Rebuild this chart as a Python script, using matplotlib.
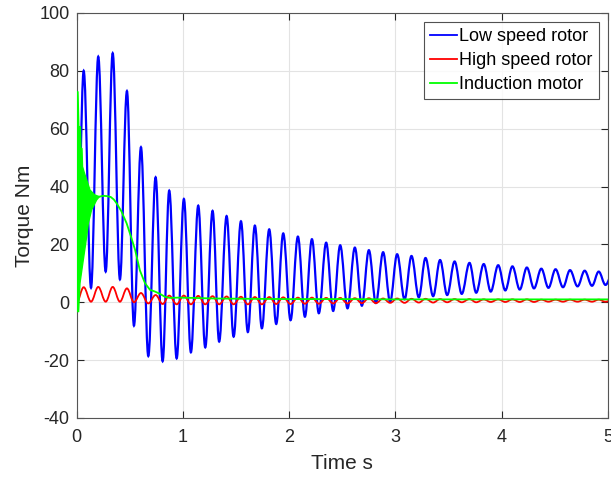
import matplotlib
matplotlib.use("Agg")
import matplotlib.pyplot as plt
from matplotlib.path import Path
from matplotlib.patches import PathPatch
from matplotlib.lines import Line2D

# ---------------- data ----------------
# times of the alternating extrema (start, peak, trough, peak, ...)
t_ext = [0.0,
         0.066, 0.135, 0.203, 0.273, 0.339, 0.407, 0.473, 0.539, 0.605, 0.674,
         0.743, 0.809, 0.871, 0.941, 1.009, 1.075, 1.144, 1.210, 1.279, 1.341,
         1.411, 1.477, 1.546, 1.611, 1.677, 1.743, 1.812, 1.878, 1.944, 2.013,
         2.082, 2.148, 2.214, 2.279, 2.348, 2.414, 2.480, 2.549, 2.618, 2.684,
         2.750, 2.816, 2.884, 2.950, 3.016, 3.086, 3.151, 3.220, 3.283, 3.355,
         3.420, 3.487, 3.557, 3.624, 3.697, 3.760, 3.831, 3.897, 3.967, 4.034,
         4.101, 4.170, 4.237, 4.304, 4.373, 4.440, 4.507, 4.577, 4.643, 4.714,
         4.781, 4.850, 4.913, 4.977, 5.047]

low_speed_ext = [0.0,
                 80.0, 5.0, 84.9, 10.6, 86.1, 7.9, 73.0, -8.1, 53.6, -18.6,
                 43.2, -20.4, 38.6, -19.4, 35.7, -17.3, 33.4, -15.6, 31.6, -13.6,
                 29.8, -11.9, 28.0, -10.3, 26.5, -9.0, 25.2, -7.5, 23.8, -6.2,
                 22.7, -5.0, 21.8, -3.8, 20.6, -3.0, 19.7, -2.1, 18.9, -1.2,
                 18.0, -0.3, 17.3, 0.2, 16.6, 1.0, 16.0, 1.7, 15.3, 2.1,
                 14.6, 2.5, 14.1, 2.9, 13.6, 3.3, 13.2, 3.7, 12.8, 4.1,
                 12.4, 4.4, 12.0, 4.8, 11.6, 5.0, 11.4, 5.2, 11.1, 5.5,
                 10.9, 5.7, 10.6, 6.0, 10.4]

high_speed_ext = [0.0,
                  5.2, 0.2, 5.3, 0.2, 5.3, 0.2, 4.8, 0.0, 3.2, -0.4,
                  2.5, -0.6, 2.3, -0.7, 2.3, -0.7, 2.2, -0.7, 2.1, -0.7,
                  2.0, -0.7, 1.9, -0.7, 1.8, -0.7, 1.8, -0.6, 1.7, -0.6,
                  1.6, -0.5, 1.6, -0.5, 1.5, -0.4, 1.5, -0.4, 1.4, -0.3,
                  1.4, -0.3, 1.3, -0.2, 1.3, -0.2, 1.2, -0.1, 1.2, -0.1,
                  1.1, 0.0, 1.1, 0.0, 1.1, 0.0, 1.0, 0.1, 1.0, 0.1,
                  1.0, 0.1, 1.0, 0.1, 0.9, 0.2, 0.9, 0.2, 0.9, 0.2,
                  0.9, 0.2, 0.9, 0.2, 0.9]

# induction motor: envelope of the fast start-up oscillation
motor_band_up_t = [0.0, 0.012, 0.020, 0.035, 0.040, 0.050, 0.055, 0.070, 0.094, 0.125, 0.170, 0.213]
motor_band_up_v = [72.8, 72.8, 60.7, 60.7, 53.2, 53.2, 46.9, 45.0, 42.3, 38.8, 37.1, 36.5]
motor_band_lo_t = [0.0, 0.006, 0.018, 0.031, 0.062, 0.085, 0.110, 0.140, 0.188, 0.213]
motor_band_lo_v = [0.0, -3.2, -3.2, 6.6, 14.6, 20.4, 27.3, 31.9, 35.4, 36.5]
# induction motor: slow part
motor_t = [0.213, 0.25, 0.282, 0.32, 0.35, 0.376, 0.42, 0.47, 0.51, 0.55, 0.595,
           0.643, 0.69, 0.737, 0.784, 0.83, 0.877, 0.95, 1.1, 1.3, 1.6, 2.0,
           2.5, 3.0, 4.0, 5.0]
motor_v = [36.5, 36.8, 36.7, 36.4, 35.5, 34.2, 31.5, 27.3, 22.8, 18.1, 11.0,
           6.6, 4.3, 3.7, 2.9, 1.9, 1.5, 1.6, 1.5, 1.3, 1.2, 1.1,
           1.1, 1.0, 1.0, 1.0]

series_names = ["Low speed rotor", "High speed rotor", "Induction motor"]
series_colors = ["#0000FF", "#FF0000", "#00FF00"]
x_ticks = [0, 1, 2, 3, 4, 5]
y_ticks = [-40, -20, 0, 20, 40, 60, 80, 100]

plt.rcParams["font.family"] = ["Liberation Sans", "DejaVu Sans"]
plt.rcParams["axes.unicode_minus"] = False


def smooth_path(ts, vs, k=0.363):
    verts = [(ts[0], vs[0])]
    codes = [Path.MOVETO]
    for i in range(1, len(ts)):
        dt = ts[i] - ts[i - 1]
        verts += [(ts[i - 1] + k * dt, vs[i - 1]), (ts[i] - k * dt, vs[i]), (ts[i], vs[i])]
        codes += [Path.CURVE4] * 3
    return Path(verts, codes)


fig = plt.figure(figsize=(6.11, 4.84), dpi=100)
ax = fig.add_axes([0.1255, 0.1364, 0.8695, 0.8368])

ax.add_patch(PathPatch(smooth_path(t_ext, low_speed_ext), fill=False,
                       edgecolor=series_colors[0], lw=1.6, zorder=3))
ax.add_patch(PathPatch(smooth_path(t_ext, high_speed_ext), fill=False,
                       edgecolor=series_colors[1], lw=1.3, zorder=4))
band_x = motor_band_up_t + motor_band_lo_t[::-1]
band_y = motor_band_up_v + motor_band_lo_v[::-1]
ax.fill(band_x, band_y, color=series_colors[2], lw=1.0, zorder=5)
ax.plot(motor_t, motor_v, color=series_colors[2], lw=1.3, zorder=5)

ax.set_xlim(0, 5)
ax.set_ylim(-40, 100)
ax.set_xticks(x_ticks)
ax.set_yticks(y_ticks)
ax.grid(True, color="#e3e3e3", lw=0.8)
ax.set_axisbelow(True)
ax.tick_params(direction="in", top=True, right=True, length=5, width=0.8,
               colors="#262626", labelsize=13)
ax.tick_params(axis="x", pad=8)
ax.tick_params(axis="y", pad=5)
for sp in ax.spines.values():
    sp.set_color("#555555")
    sp.set_linewidth(0.8)
ax.set_xlabel("Time s", fontsize=15, color="#262626", labelpad=6)
ax.set_ylabel("Torque Nm", fontsize=15, color="#262626", labelpad=4)

handles = [Line2D([], [], color=c, lw=1.3) for c in series_colors]
leg = ax.legend(handles, series_names, loc="upper right", fontsize=13,
                frameon=True, fancybox=False, edgecolor="#262626",
                handlelength=1.45, handletextpad=0.15, borderpad=0.35,
                labelspacing=0.38, borderaxespad=0.5)
leg.get_frame().set_linewidth(0.8)

fig.savefig("out.png", dpi=100)
